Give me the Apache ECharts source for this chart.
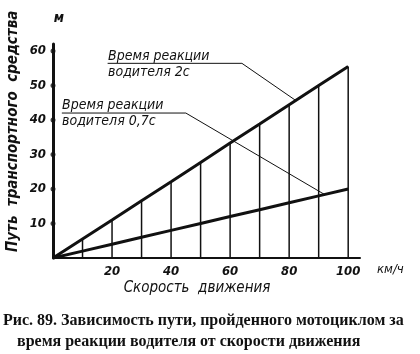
<!DOCTYPE html>
<html><head><meta charset="utf-8">
<script src="https://cdn.jsdelivr.net/npm/echarts@6/dist/echarts.min.js"></script>
<style>html,body{margin:0;padding:0;background:#fff}#c{width:420px;height:354px}</style>
</head><body><div id="c"></div>
<script>
const speeds = [0, 10, 20, 30, 40, 50, 60, 70, 80, 90, 100];
const dist2s = [0, 5.5, 11, 16.6, 22.1, 27.7, 33.3, 38.8, 44.4, 50, 55.5];
const dist07s = [0, 2, 4, 6, 8, 10, 12, 14, 16, 18, 20];
const xTicks = [20, 40, 60, 80, 100];
const yTicks = [10, 20, 30, 40, 50, 60];
const lead2s = [[18.5, 56.4], [64, 56.4], [82.3, 45.6]];
const lead07s = [[3, 42], [45, 42], [92, 18.4]];

const drawFont = '"DejaVu Sans Condensed", "DejaVu Sans", sans-serif';
const serifFont = '"Liberation Serif", "DejaVu Serif", serif';
const ink = '#111';

const chart = echarts.init(document.getElementById('c'), null, {renderer: 'canvas'});
const lbl = {color: ink, fontStyle: 'italic', fontWeight: 'bold', fontSize: 13, fontFamily: drawFont};

chart.setOption({
  backgroundColor: '#fff',
  animation: false,
  grid: {left: 53, right: 60, top: 44, bottom: 96},
  xAxis: {
    type: 'value', min: 0, max: 104, interval: 20,
    axisLine: {lineStyle: {color: ink, width: 2}},
    axisTick: {show: false}, splitLine: {show: false},
    axisLabel: Object.assign({margin: 7, formatter: v => xTicks.includes(v) ? String(v) : ''}, lbl)
  },
  yAxis: {
    type: 'value', min: 0, max: 62, interval: 10,
    axisLine: {show: true, lineStyle: {color: ink, width: 3}},
    axisTick: {show: false}, splitLine: {show: false},
    axisLabel: Object.assign({margin: 7, formatter: v => yTicks.includes(v) ? String(v) : ''}, lbl)
  },
  series: [
    {type: 'bar', barWidth: 1.5, z: 2, itemStyle: {color: ink},
     data: speeds.slice(1).map((s, i) => [s, dist2s[i + 1]])},
    {type: 'line', symbol: 'none', z: 4, lineStyle: {color: ink, width: 3},
     data: speeds.map((s, i) => [s, dist2s[i]])},
    {type: 'line', symbol: 'none', z: 4, lineStyle: {color: ink, width: 3},
     data: speeds.map((s, i) => [s, dist07s[i]])},
    {type: 'line', symbol: 'none', z: 3, lineStyle: {color: ink, width: 1}, data: lead2s},
    {type: 'line', symbol: 'none', z: 3, lineStyle: {color: ink, width: 1}, data: lead07s},
    {type: 'scatter', symbol: 'circle', symbolSize: 5, z: 5, clip: false, itemStyle: {color: ink},
     data: yTicks.map(v => [0, v])}
  ],
  graphic: [
    {type: 'text', x: 13, y: 252, rotation: Math.PI / 2,
     style: {text: 'Путь  транспортного  средства', fill: ink, font: 'italic bold 15px ' + drawFont,
             textAlign: 'left', textVerticalAlign: 'middle'}},
    {type: 'text', x: 59, y: 18, style: {text: 'м', fill: ink, font: 'italic bold 14px ' + drawFont,
             textAlign: 'center', textVerticalAlign: 'middle'}},
    {type: 'text', x: 377, y: 270, style: {text: 'км/ч', fill: ink, font: 'italic 13px ' + drawFont,
             textAlign: 'left', textVerticalAlign: 'middle'}},
    {type: 'text', x: 197, y: 288, style: {text: 'Скорость  движения', fill: ink, font: 'italic 15px ' + drawFont,
             textAlign: 'center', textVerticalAlign: 'middle'}},
    {type: 'text', x: 108, y: 56, style: {text: 'Время реакции', fill: ink, font: 'italic 14px ' + drawFont,
             textAlign: 'left', textVerticalAlign: 'middle'}},
    {type: 'text', x: 108, y: 72, style: {text: 'водителя 2с', fill: ink, font: 'italic 14px ' + drawFont,
             textAlign: 'left', textVerticalAlign: 'middle'}},
    {type: 'text', x: 62, y: 105, style: {text: 'Время реакции', fill: ink, font: 'italic 14px ' + drawFont,
             textAlign: 'left', textVerticalAlign: 'middle'}},
    {type: 'text', x: 62, y: 121, style: {text: 'водителя 0,7с', fill: ink, font: 'italic 14px ' + drawFont,
             textAlign: 'left', textVerticalAlign: 'middle'}},
    {type: 'text', x: 3, y: 321, style: {text: 'Рис. 89. Зависимость пути, пройденного мотоциклом за', fill: ink,
             font: 'bold 16px ' + serifFont, textAlign: 'left', textVerticalAlign: 'middle'}},
    {type: 'text', x: 17, y: 342, style: {text: 'время реакции водителя от скорости движения', fill: ink,
             font: 'bold 16px ' + serifFont, textAlign: 'left', textVerticalAlign: 'middle'}}
  ]
});
</script></body></html>
